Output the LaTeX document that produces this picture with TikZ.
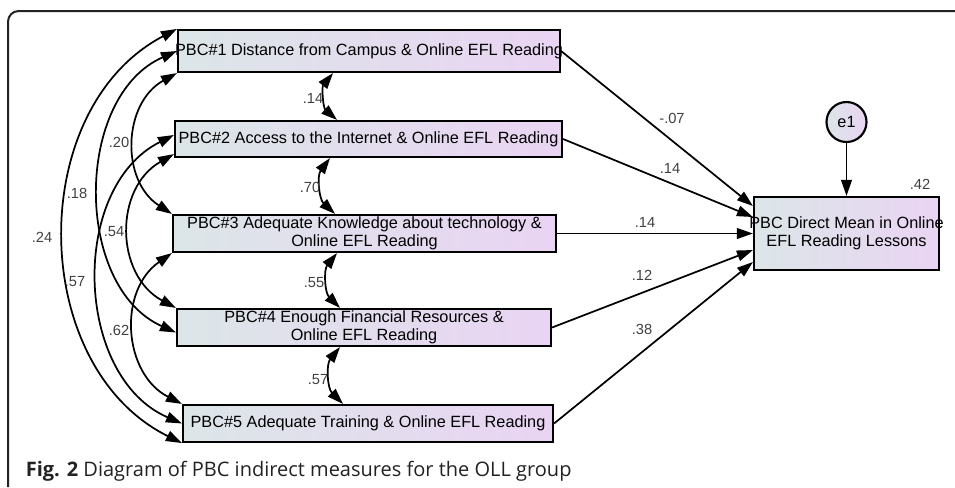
\documentclass[tikz,border=0pt]{standalone}
\usepackage{fontspec}
\setmainfont{Liberation Sans}
\newfontfamily\capfont{Open Sans}
\usepackage{tikz}
\usetikzlibrary{calc,arrows.meta}
\definecolor{boxleft}{HTML}{DCE6E8}
\definecolor{boxright}{HTML}{E9D4F3}
\definecolor{coefgray}{HTML}{404040}
\definecolor{framegray}{HTML}{222222}

\begin{document}
\begin{tikzpicture}[x=0.75pt, y=0.75pt, line width=1.3pt, % 1単位 = 1px
  obs/.style={draw, line width=1.6pt, left color=boxleft, right color=boxright, inner sep=0pt, align=center, font=\fontsize{12.2}{13.3}\selectfont}, % 観測変数
  coef/.style={font=\fontsize{11}{12}\selectfont, text=coefgray, inner sep=0pt}, % 係数
  effect/.style={-{Triangle[length=12pt,width=8pt]}}, % 単方向の矢印
  cov/.style={{Triangle[length=12pt,width=8pt]}-{Triangle[length=12pt,width=8pt]}}] % 共分散
  \useasboundingbox (0,0) rectangle (955,-487); % 画像の大きさ
  \draw[line width=1.5pt, color=framegray, rounded corners=8pt] (955,-11) -- (8,-11) -- (8,-487); % 外枠

  \node[obs, minimum width=286.5pt, minimum height=31.5pt] (b1) at (369,-51) {\makebox[0pt]{PBC\#1 Distance from Campus \& Online EFL Reading}};
  \node[obs, minimum width=290.25pt, minimum height=27pt] (b2) at (368.5,-139) {\makebox[0pt]{PBC\#2 Access to the Internet \& Online EFL Reading}};
  \node[obs, minimum width=287.25pt, minimum height=27.75pt] (b3) at (364.5,-233.5) {\makebox[0pt]{PBC\#3 Adequate Knowledge about technology \&}\\\makebox[0pt]{Online EFL Reading}};
  \node[obs, minimum width=280.5pt, minimum height=27.75pt] (b4) at (364,-327.5) {\makebox[0pt]{PBC\#4 Enough Financial Resources \&}\\\makebox[0pt]{Online EFL Reading}};
  \node[obs, minimum width=277.5pt, minimum height=27.75pt] (b5) at (368,-423.5) {\makebox[0pt]{PBC\#5 Adequate Training \& Online EFL Reading}};
  \node[obs, minimum width=138.75pt, minimum height=54.75pt] (dv) at (846.5,-233.5) {\makebox[0pt]{PBC Direct Mean in Online}\\\makebox[0pt]{EFL Reading Lessons}}; % 目的変数
  \node[obs, circle, minimum size=30pt] (e1) at (846.5,-122) {e1}; % 誤差

  \draw[effect] (b1.east) -- ($(dv.west)+(0,27.5)$);
  \draw[effect] (b2.east) -- ($(dv.west)+(0,16.5)$);
  \draw[effect] (b3.east) -- (dv.west);
  \draw[effect] (b4.east) -- ($(dv.west)+(0,-16.5)$);
  \draw[effect] (b5.east) -- ($(dv.west)+(0,-28.5)$);
  \draw[effect] (e1) -- (dv.north);

  \draw[cov] ($(b1.south)+(-36,0)$) to[bend right=44] ($(b2.north)+(-31.5,0)$); % 隣どうし
  \draw[cov] ($(b2.south)+(-38.5,0)$) to[bend right=42] ($(b3.north)+(-29.5,0)$);
  \draw[cov] ($(b3.south)+(-27.5,0)$) to[bend right=42] ($(b4.north)+(-24,0)$);
  \draw[cov] ($(b4.south)+(-24,0)$) to[bend right=42] ($(b5.north)+(-25,0)$);

  \draw[cov] (b1.north west) to[bend right=63, looseness=1.06] (b5.south west); % 左側の弧
  \draw[cov] (b1.west) to[bend right=66, looseness=1.02] ($(b4.west)+(0,-5)$);
  \draw[cov] (b1.south west) to[bend right=59, looseness=1.12] (b3.north west);
  \draw[cov] ($(b2.west)+(0,4)$) to[bend right=65, looseness=1.04] (b5.west);
  \draw[cov] ($(b2.south west)+(0,4)$) to[bend right=61, looseness=1.15] (b4.north west);
  \draw[cov] (b3.south west) to[bend right=59, looseness=1.12] (b5.north west);

  \node[coef] (c12) at (313,-98) {.14};
  \node[coef] (c23) at (310,-187) {.70};
  \node[coef] (c34) at (314,-283) {.55};
  \node[coef] (c45) at (318,-380) {.57};
  \node[coef] (c13) at (119,-142) {.20};
  \node[coef] (c14) at (77,-193) {.18};
  \node[coef] (c15) at (42,-237) {.24};
  \node[coef] (c24) at (114,-232) {.54};
  \node[coef] (c25) at (75,-282) {.57};
  \node[coef] (c35) at (119,-330) {.62};
  \node[coef] (w1) at (672,-118) {-.07};
  \node[coef] (w2) at (670,-168) {.14};
  \node[coef] (w3) at (645,-222) {.14};
  \node[coef] (w4) at (642,-275) {.12};
  \node[coef] (w5) at (642,-329) {.38};
  \node[coef] (r2) at (920,-184) {.42};

  \node[anchor=west, inner sep=0pt, text=framegray, font=\capfont\fontsize{15}{18}\selectfont] (cap) at (25,-471) {\textbf{Fig. 2} Diagram of PBC indirect measures for the OLL group}; % 図の説明
\end{tikzpicture}
\end{document}
